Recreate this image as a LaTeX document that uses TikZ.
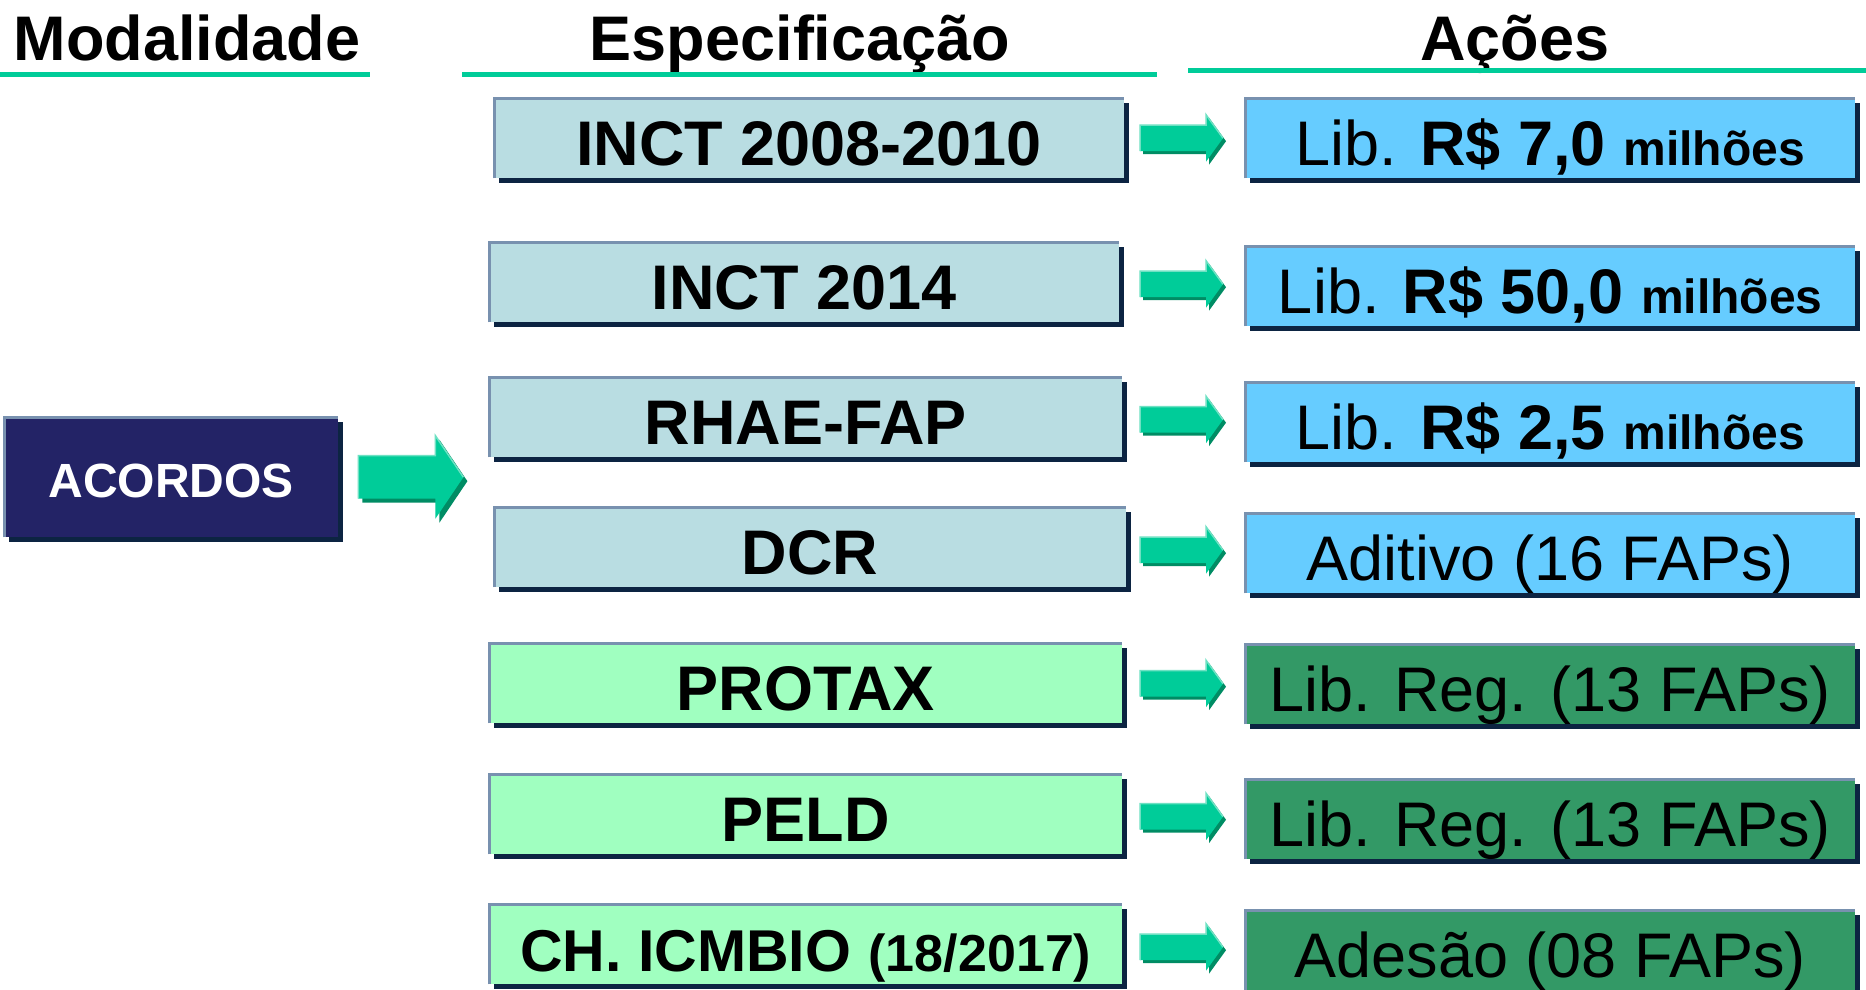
\documentclass[tikz,border=0pt]{standalone}
\usepackage{fontspec}
\setmainfont{Liberation Sans}
\usetikzlibrary{calc,shadows}
\definecolor{specblue}{RGB}{185,221,226}
\definecolor{specgreen}{RGB}{160,255,192}
\definecolor{actblue}{RGB}{102,204,255}
\definecolor{actgreen}{RGB}{51,153,102}
\definecolor{navy}{RGB}{35,35,102}
\definecolor{lightedge}{RGB}{120,145,175}
\definecolor{shadowc}{RGB}{12,36,66}
\definecolor{arrowc}{RGB}{0,204,153}
\definecolor{arrowdark}{RGB}{0,140,100}
\definecolor{arrowlight}{RGB}{110,225,195}
\definecolor{ulinec}{RGB}{0,204,153}
\newcommand\blockarr[7]{%
  % #1 origin, #2 start x, #3 head base x, #4 tip x, #5 shaft half, #6 head half, #7 shadow offset
  \begin{scope}[shift={(#1)}]
    \fill[arrowdark, shift={(#7,#7)}] (#2,-#5) -- (#3,-#5) -- (#3,-#6) -- (#4,0) -- (#3,#6) -- (#3,#5) -- (#2,#5) -- cycle;
    \fill[arrowc] (#2,-#5) -- (#3,-#5) -- (#3,-#6) -- (#4,0) -- (#3,#6) -- (#3,#5) -- (#2,#5) -- cycle;
    \draw[arrowlight, line width=1.5pt] (#2,#5) -- (#2,-#5) -- (#3,-#5) -- (#3,-#6) -- (#4,0);
  \end{scope}}
\tikzset{
  box/.style={anchor=north west, inner sep=0pt, minimum height=80pt,
    text height=54pt, text depth=0pt, align=center,
    font=\fontsize{63}{70}\selectfont,
    drop shadow={shadow xshift=4.5pt, shadow yshift=-4.5pt, fill=shadowc, opacity=1}},
  specbox/.style={box, font=\fontsize{63}{70}\selectfont\bfseries},
  actbox/.style={box, minimum width=610pt},
  head/.style={anchor=base, inner sep=0pt, font=\fontsize{63}{70}\selectfont\bfseries},
  uline/.style={ulinec, line width=5pt},
  edge/.style={lightedge, line width=3pt}
}
\newcommand\sm{\fontsize{48}{50}\selectfont}
\begin{document}
\begin{tikzpicture}[x=1pt,y=-1pt]
\useasboundingbox[fill=white] (0,0) rectangle (1866,990);

% headings
\node[head] (hmod) at (187,60) {Modalidade};
\node[head] (hesp) at (800,60) {Especificação};
\node[head] (hacc) at (1515,60) {Ações};
\draw[uline] (0,75) -- (370,75);
\draw[uline] (462,75) -- (1157,75);
\draw[uline] (1188,70.5) -- (1866,70.5);

% modalidade
\node[box, fill=navy, text=white, minimum width=334pt, minimum height=120pt,
  text height=41pt, font=\fontsize{48}{50}\selectfont\bfseries] (acordos) at (4,417) {ACORDOS};

% especificacao
\node[specbox, fill=specblue, minimum width=630pt] (s1) at (494,98) {INCT 2008-2010};
\node[specbox, fill=specblue, minimum width=630pt] (s2) at (489,242) {INCT 2014};
\node[specbox, fill=specblue, minimum width=633pt] (s3) at (489,377) {RHAE-FAP};
\node[specbox, fill=specblue, minimum width=632pt] (s4) at (494,507) {DCR};
\node[specbox, fill=specgreen, minimum width=633pt] (s5) at (489,643) {PROTAX};
\node[specbox, fill=specgreen, minimum width=633pt] (s6) at (489,774) {PELD};
\node[specbox, fill=specgreen, minimum width=633pt] (s7) at (489,904)
  {{\fontsize{59}{66}\selectfont CH. ICMBIO} {\fontsize{52}{60}\selectfont (18/2017)}};

% acoes
\node[actbox, fill=actblue] (a1) at (1245,98) {Lib. {\bfseries R\$ 7,0 {\sm milhões}}};
\node[actbox, fill=actblue] (a2) at (1245,246) {Lib. {\bfseries R\$ 50,0 {\sm milhões}}};
\node[actbox, fill=actblue] (a3) at (1245,382) {Lib. {\bfseries R\$ 2,5 {\sm milhões}}};
\node[actbox, fill=actblue] (a4) at (1245,513) {Aditivo (16 FAPs)};
\node[actbox, fill=actgreen] (a5) at (1245,644) {Lib. Reg. (13 FAPs)};
\node[actbox, fill=actgreen] (a6) at (1245,779) {Lib. Reg. (13 FAPs)};
\node[actbox, fill=actgreen] (a7) at (1245,910) {Adesão (08 FAPs)};

% light top/left edges
\foreach \n in {acordos,s1,s2,s3,s4,s5,s6,s7,a1,a2,a3,a4,a5,a6,a7}{
  \draw[edge] (\n.south west) -- (\n.north west) -- (\n.north east);
}

% arrows
\coordinate (ax) at (1184.5,0);
\foreach \i in {1,...,7}{
  \coordinate (m\i) at ($(s\i.east)!0.5!(a\i.west)$);
  \coordinate (mm\i) at (m\i -| ax);
  \blockarr{mm\i}{-44.5}{21.5}{38.5}{13}{23.5}{3}
}
\coordinate (bigm) at (acordos.east);
\blockarr{bigm}{20}{97}{125}{21.5}{41.5}{4}
\end{tikzpicture}
\end{document}
